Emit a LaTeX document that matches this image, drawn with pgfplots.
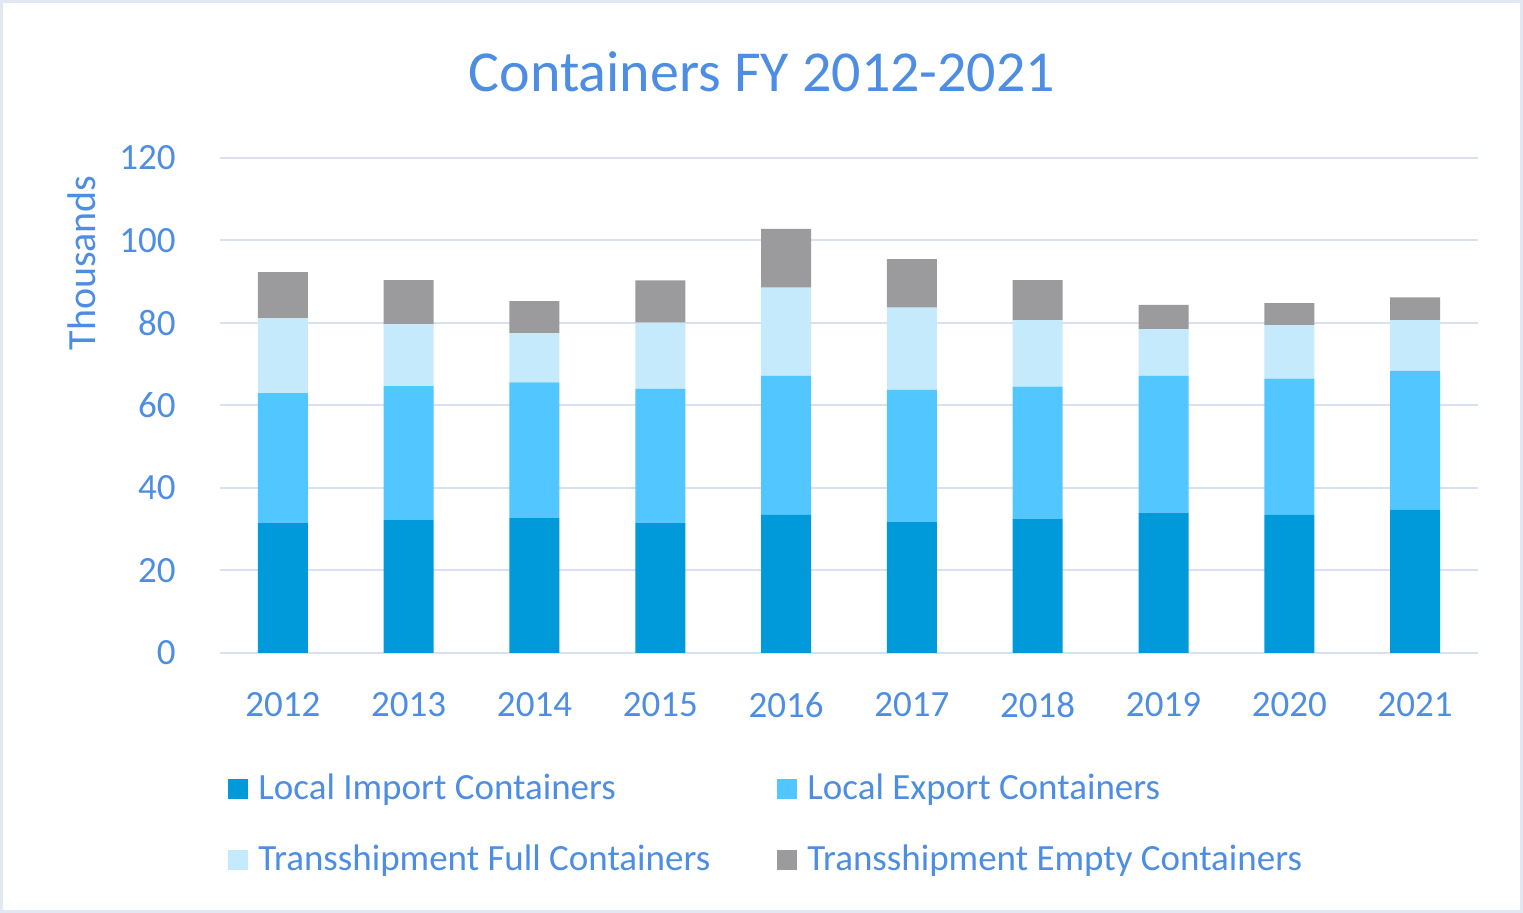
\documentclass[border=0pt]{standalone}
\usepackage{pgfplots}
\pgfplotsset{compat=1.18}
\usepackage{fontspec}
\setmainfont{Carlito}

\definecolor{imp}{RGB}{0,153,218}
\definecolor{exp}{RGB}{82,199,255}
\definecolor{tsf}{RGB}{196,234,252}
\definecolor{tse}{RGB}{155,155,158}
\definecolor{txt}{RGB}{78,142,226}
\definecolor{gridc}{RGB}{217,224,240}
\definecolor{framec}{RGB}{226,232,242}

\pgfplotstableread{
x imp exp tsf tse
0 31.6 31.4 18.1 11.2
1 32.2 32.5 15.0 10.7
2 32.8 32.8 11.9 7.8
3 31.6 32.4 16.1 10.2
4 33.5 33.7 21.4 14.2
5 31.7 32.1 19.9 11.8
6 32.6 32.0 16.1 9.7
7 34.0 33.2 11.3 5.9
8 33.5 33.0 13.0 5.3
9 34.7 33.7 12.3 5.5
}\containers

\begin{document}
\begin{tikzpicture}
\path[use as bounding box] (0pt,0pt) rectangle (761.5pt,456.5pt);
\draw[framec, line width=1.5pt] (0.75pt,0.75pt) rectangle (760.75pt,455.75pt);
\node[anchor=base, inner sep=0pt, text=txt, font=\fontsize{29}{34}\selectfont] at (381pt,410.5pt) {Containers FY 2012-2021};
\begin{axis}[
  at={(110pt,130pt)}, anchor=south west,
  scale only axis, width=629pt, height=247.5pt,
  ybar stacked, bar width=25pt,
  xmin=-0.5, xmax=9.5, ymin=0, ymax=120,
  ytick={0,20,...,120},
  xtick={0,...,9},
  xticklabels={2012,2013,2014,2015,2016,2017,2018,2019,2020,2021},
  axis line style={draw=none},
  major tick length=0pt,
  ymajorgrids, grid style={gridc, line width=1pt},
  /pgf/number format/assume math mode=true,
  tick label style={font=\fontsize{18.5}{22}\selectfont, text=txt, inner sep=0pt},
  yticklabel style={xshift=-22pt},
  xticklabel style={yshift=-19.5pt},
  every axis y label/.style={at={(axis description cs:-0.1097,0.788)}, rotate=90, anchor=center, font=\fontsize{20}{24}\selectfont, text=txt},
  ylabel={Thousands},
  legend columns=2,
  legend cell align=left,
  legend image code/.code={\fill[#1] (0pt,-5pt) rectangle (10pt,5pt);},
  legend style={at={(axis description cs:0.00636,-0.2384)}, anchor=north west,
    draw=none, fill=none, inner sep=0pt, column sep=5pt, row sep=17.5pt,
    font=\fontsize{18.5}{22}\selectfont, text=txt,
    nodes={inner sep=0pt, text height=14pt, text depth=4pt}},
  /tikz/every even column/.append style={column sep=33.5pt},
]
\addplot[fill=imp, draw=none] table[x=x, y=imp] {\containers};
\addlegendentry{Local Import Containers}
\addplot[fill=exp, draw=none] table[x=x, y=exp] {\containers};
\addlegendentry{Local Export Containers}
\addplot[fill=tsf, draw=none] table[x=x, y=tsf] {\containers};
\addlegendentry{Transshipment Full Containers}
\addplot[fill=tse, draw=none] table[x=x, y=tse] {\containers};
\addlegendentry{Transshipment Empty Containers}
\end{axis}
\end{tikzpicture}
\end{document}
